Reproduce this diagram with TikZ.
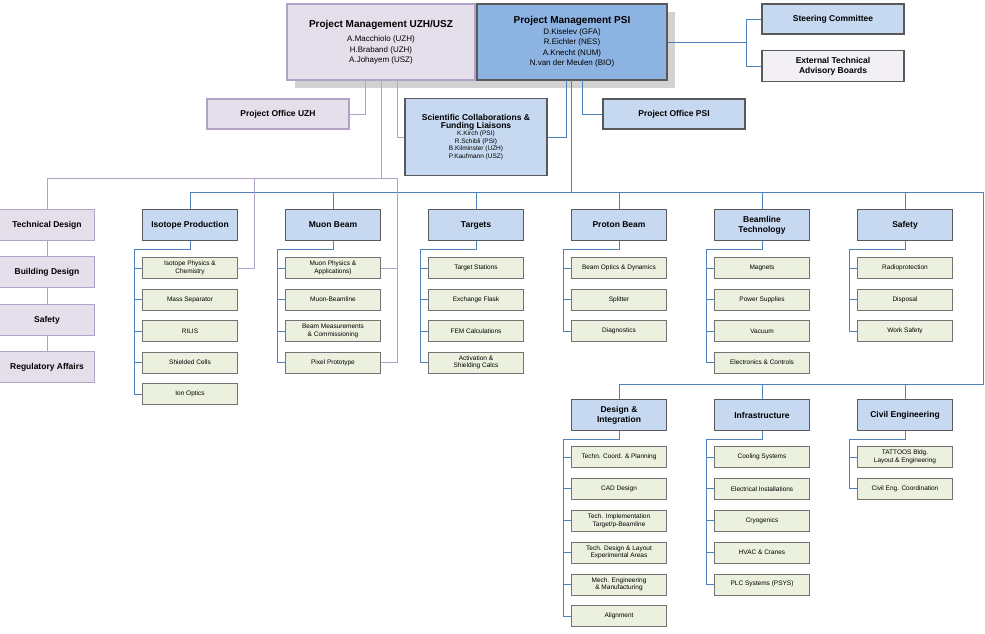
\documentclass[tikz,border=0pt]{standalone}
\usepackage{fontspec}
\setmainfont{Liberation Sans}
\usetikzlibrary{calc}

\definecolor{uzhfill}{HTML}{E5DFEC}
\definecolor{uzhline}{HTML}{B3A2C7}
\definecolor{psifill}{HTML}{C6D9F1}
\definecolor{psidark}{HTML}{8DB3E2}
\definecolor{psiline}{HTML}{4F81BD}
\definecolor{itemfill}{HTML}{EBF1DE}

\tikzset{
  head/.style={draw=black!65, line width=1.3pt, fill=psifill, minimum width=95pt, minimum height=31pt, align=center, inner sep=1pt, font=\bfseries\fontsize{8.5}{10}\selectfont},
  uzhhead/.style={head, draw=uzhline, fill=uzhfill},
  item/.style={draw=black!55, fill=itemfill, minimum width=95pt, minimum height=21pt, align=center, inner sep=1pt, font=\fontsize{6.5}{7.5}\selectfont},
  bline/.style={draw=psiline, line width=0.9pt},
  pline/.style={draw=uzhline, line width=0.9pt}
}

\begin{document}
\begin{tikzpicture}[x=1pt,y=-1pt]
\useasboundingbox (0,0) rectangle (985,633);

% management
\fill[gray!35] (295,12) rectangle (675,88);
\node[uzhhead, minimum width=188pt, minimum height=76pt, font=\fontsize{8}{10.5}\selectfont] (pmuzh) at (381,42) {{\bfseries\fontsize{10}{12}\selectfont Project Management UZH/USZ}\\[4pt] A.Macchiolo (UZH)\\H.Braband (UZH)\\A.Johayem (USZ)};
\node[head, fill=psidark, minimum width=190pt, minimum height=76pt, font=\fontsize{8}{10.5}\selectfont] (pmpsi) at (572,42) {{\bfseries\fontsize{10}{12}\selectfont Project Management PSI}\\D.Kiselev (GFA)\\R.Eichler (NES)\\A.Knecht (NUM)\\N.van der Meulen (BIO)};
\node[head, minimum width=142pt, minimum height=30pt] (steer) at (833,19) {Steering Committee};
\node[head, fill=uzhfill!50, minimum width=142pt, minimum height=31pt] (board) at (833,66) {External Technical\\Advisory Boards};
\node[uzhhead, minimum width=142pt, minimum height=30pt] (pouzh) at (278,114) {Project Office UZH};
\node[head, minimum width=142pt, minimum height=30pt] (popsi) at (674,114) {Project Office PSI};
\node[head, minimum width=142pt, minimum height=77pt, font=\fontsize{6.5}{7.5}\selectfont] (collab) at (476,137) {{\bfseries\fontsize{8.5}{10}\selectfont Scientific Collaborations \&}\\{\bfseries\fontsize{8.5}{10}\selectfont Funding Liaisons}\\K.Kirch (PSI)\\R.Schibli (PSI)\\B.Kilminster (UZH)\\P.Kaufmann (USZ)};

\draw[bline] (pmpsi.east) -- (746,42) |- (steer.west);
\draw[bline] (746,42) |- (board.west);
\draw[bline] (582,80) |- (popsi.west);
\draw[bline] (566,80) |- (collab.east);
\draw[pline] (365,80) |- (pouzh.east);
\draw[pline] (397,80) |- (collab.west);

% uzh column
\node[uzhhead] (tech) at (47,225) {Technical Design};
\node[uzhhead] (build) at (47,272) {Building Design};
\node[uzhhead] (usafe) at (47,320) {Safety};
\node[uzhhead] (regu) at (47,367) {Regulatory Affairs};
\draw[pline] (tech) -- (build) -- (usafe) -- (regu);

% psi heads
\node[head] (iso) at (190,225) {Isotope Production};
\node[head] (muon) at (333,225) {Muon Beam};
\node[head] (targ) at (476,225) {Targets};
\node[head] (prot) at (619,225) {Proton Beam};
\node[head] (beam) at (762,225) {Beamline\\Technology};
\node[head] (safe) at (905,225) {Safety};
\node[head] (desi) at (619,415) {Design \&\\Integration};
\node[head] (infr) at (762,415) {Infrastructure};
\node[head] (civil) at (905,415) {Civil Engineering};

% items
\foreach \t [count=\i] in {{Isotope Physics \&\\Chemistry}, Mass Separator, RILIS, Shielded Cells, Ion Optics}
  \node[item] (iso\i) at (190,{268+31.5*(\i-1)}) {\t};
\foreach \t [count=\i] in {{Muon Physics \&\\Applications)}, Muon-Beamline, {Beam Measurements\\\& Commissioning}, Pixel Prototype}
  \node[item] (muon\i) at (333,{268+31.5*(\i-1)}) {\t};
\foreach \t [count=\i] in {Target Stations, Exchange Flask, FEM Calculations, {Activation \&\\Shielding Calcs}}
  \node[item] (targ\i) at (476,{268+31.5*(\i-1)}) {\t};
\foreach \t [count=\i] in {Beam Optics \& Dynamics, Splitter, Diagnostics}
  \node[item] (prot\i) at (619,{268+31.5*(\i-1)}) {\t};
\foreach \t [count=\i] in {Magnets, Power Supplies, Vacuum, Electronics \& Controls}
  \node[item] (beam\i) at (762,{268+31.5*(\i-1)}) {\t};
\foreach \t [count=\i] in {Radioprotection, Disposal, Work Safety}
  \node[item] (safe\i) at (905,{268+31.5*(\i-1)}) {\t};
\foreach \t [count=\i] in {Techn. Coord. \& Planning, CAD Design, {Tech. Implementation\\Target/p-Beamline}, {Tech. Design \& Layout\\Experimental Areas}, {Mech. Engineering\\\& Manufacturing}, Alignment}
  \node[item] (desi\i) at (619,{457+31.8*(\i-1)}) {\t};
\foreach \t [count=\i] in {Cooling Systems, Electrical Installations, Cryogenics, HVAC \& Cranes, PLC Systems (PSYS)}
  \node[item] (infr\i) at (762,{457+31.8*(\i-1)}) {\t};
\foreach \t [count=\i] in {{TATTOOS Bldg.\\Layout \& Engineering}, Civil Eng. Coordination}
  \node[item] (civil\i) at (905,{457+31.8*(\i-1)}) {\t};

% brackets
\foreach \h/\n in {iso/5, muon/4, targ/4, prot/3, beam/4, safe/3, desi/6, infr/5, civil/2} {
  \draw[bline] (\h.south) -- ++(0,8) -| ([xshift=-8pt]\h\n.west) -- (\h\n.west);
  \foreach \i in {1,...,\n} \draw[bline] (\h\i.west) -- ++(-8,0);
}

% psi tree
\draw[bline] (571,80) -- (571,192);
\draw[bline] (190,192) -- (983,192) -- (983,384) -- (619,384);
\foreach \h in {iso, muon, targ, prot, beam, safe} \draw[bline] (\h.north) -- (\h.north |- 0,192);
\foreach \h in {desi, infr, civil} \draw[bline] (\h.north) -- (\h.north |- 0,384);

% uzh tree
\draw[pline] (381,80) -- (381,178);
\draw[pline] (47,178) -- (397,178);
\draw[pline] (tech.north) -- (47,178);
\draw[pline] (254,178) |- (iso1.east);
\draw[pline] (397,178) |- (muon4.east);
\draw[pline] (397,268) -- (muon1.east);
\end{tikzpicture}
\end{document}
